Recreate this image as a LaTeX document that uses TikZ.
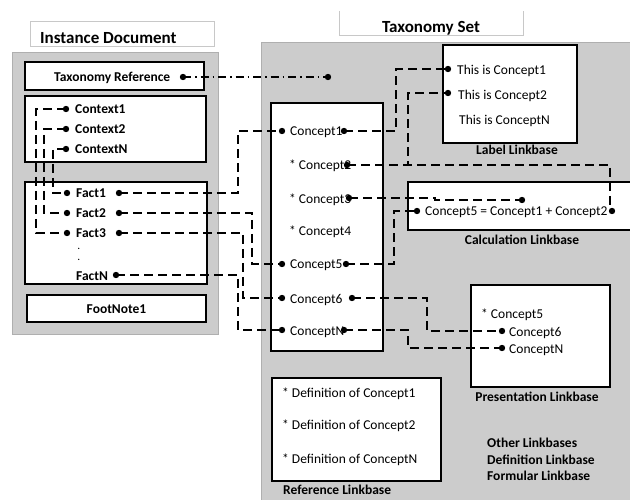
\documentclass[tikz,border=0pt]{standalone}
\usepackage{fontspec}
\setmainfont{Carlito}
\usetikzlibrary{calc}
\definecolor{panelgray}{RGB}{204,204,204}
\definecolor{panelborder}{RGB}{175,175,175}
\definecolor{titleborder}{RGB}{200,200,200}
\tikzset{
  txt/.style={anchor=base west, inner sep=0pt, font=\fontsize{13.5}{16}\selectfont},
  btxt/.style={txt, font=\fontsize{13.5}{16}\selectfont\bfseries},
  ctxt/.style={anchor=base, inner sep=0pt, font=\fontsize{13.5}{16}\selectfont\bfseries},
  ttl/.style={anchor=base west, inner sep=0pt, font=\fontsize{17}{20}\selectfont\bfseries},
  box/.style={draw=black, line width=1.3pt, fill=white},
  panel/.style={fill=panelgray, draw=panelborder, line width=1pt},
  link/.style={line width=1.2pt, dash pattern=on 9pt off 5pt},
  dashdot/.style={line width=1.2pt, dash pattern=on 8pt off 4pt on 1.5pt off 4pt},
  ellip/.style={anchor=base west, inner sep=0pt, text height=1.5pt, text depth=0pt, font=\fontsize{9}{10}\selectfont\bfseries},
}
\newcommand{\blob}[1]{\fill (#1) circle (3.2pt);}
\begin{document}
\begin{tikzpicture}[x=1pt,y=-1pt]
\useasboundingbox (0,0) rectangle (630,500);
\clip (0,0) rectangle (630,500);
\fill[white] (0,0) rectangle (630,500);

% title boxes
\draw[titleborder, line width=1pt, fill=white] (30,22) rectangle (214,47);
\node[ttl] (tid) at (40,44) {Instance Document};
\draw[titleborder, line width=1pt] (339,11) -- (339,36) -- (523,36) -- (523,11);
\node[ttl, anchor=base] (tts) at (431,33) {Taxonomy Set};

% panels
\draw[panel] (12,53) rectangle (218,334);
\draw[panel] (261,43) rectangle (640,510);

% instance boxes
\draw[box] (25,62) rectangle (204,90);
\node[btxt] (taxref) at (54,82) {Taxonomy Reference};
\coordinate (trdot) at (183,77);

\draw[box] (25,96) rectangle (206,162);
\node[btxt] (ctx1) at (75,114) {Context1};
\node[btxt] (ctx2) at (75,134) {Context2};
\node[btxt] (ctxN) at (75,154) {ContextN};
\coordinate (c1d) at (66,109);
\coordinate (c2d) at (66,129);
\coordinate (cNd) at (66,149);

\draw[box] (25,182) rectangle (207,284);
\node[btxt] (f1) at (76,198) {Fact1};
\node[btxt] (f2) at (76,218) {Fact2};
\node[btxt] (f3) at (76,238) {Fact3};
\node[ellip] (fd1) at (77.5,249.5) {.};
\node[ellip] (fd2) at (77.5,260.5) {.};
\node[btxt] (fN) at (76,280) {FactN};
\coordinate (f1l) at (67,193);
\coordinate (f2l) at (67,213);
\coordinate (f3l) at (67,233);
\coordinate (f1r) at (119,193);
\coordinate (f2r) at (119,213);
\coordinate (f3r) at (119,233);
\coordinate (fNr) at (116,275);

\draw[box] (27,295) rectangle (206,322);
\node[ctxt] (fn) at (116.5,313) {FootNote1};

% taxonomy: concept box
\draw[box] (271,103) rectangle (383,351);
\node[txt] (k1) at (290,136) {Concept1};
\node[txt] (k2) at (289,170) {* Concept2};
\node[txt] (k3) at (289,204) {* Concept3};
\node[txt] (k4) at (289,236) {* Concept4};
\node[txt] (k5) at (290,269) {Concept5};
\node[txt] (k6) at (290,303) {Concept6};
\node[txt] (kN) at (290,335) {ConceptN};
\coordinate (k1l) at (282,131);
\coordinate (k5l) at (282,264);
\coordinate (k6l) at (282,298);
\coordinate (kNl) at (282,330);
\coordinate (k1r) at (344,131);
\coordinate (k2r) at (347,165);
\coordinate (k3r) at (349,198);
\coordinate (k5r) at (346,264);
\coordinate (k6r) at (352,298);
\coordinate (kNr) at (344,330);
\coordinate (trend) at (328,77);

% label linkbase
\draw[box] (443,45) rectangle (577,143);
\node[txt] (l1) at (457,75) {This is Concept1};
\node[txt] (l2) at (458,100) {This is Concept2};
\node[txt] (lN) at (459,125) {This is ConceptN};
\coordinate (l1d) at (448,69);
\coordinate (l2d) at (448,93);
\node[ctxt] (llb) at (517,155) {Label Linkbase};

% calculation linkbase
\draw[box] (408,182) rectangle (640,230);
\node[txt] (calc) at (425,216) {Concept5 = Concept1 + Concept2};
\coordinate (cal) at (417,211);
\coordinate (car) at (612,211);
\coordinate (cat) at (522,200);
\node[ctxt] (clb) at (522,245) {Calculation Linkbase};

% presentation linkbase
\draw[box] (471,285) rectangle (610,387);
\node[txt] (p5) at (481,319) {* Concept5};
\node[txt] (p6) at (509,336) {Concept6};
\node[txt] (pN) at (509,353) {ConceptN};
\coordinate (p6d) at (502,331);
\coordinate (pNd) at (502,348);
\node[ctxt] (plb) at (537,401) {Presentation Linkbase};

% reference linkbase
\draw[box] (272,378) rectangle (441,481);
\node[txt] (r1) at (282,397) {* Definition of Concept1};
\node[txt] (r2) at (282,429) {* Definition of Concept2};
\node[txt] (rN) at (282,463) {* Definition of ConceptN};
\node[btxt] (rlb) at (283,494) {Reference Linkbase};

% other linkbases
\node[btxt] (o1) at (487,447) {Other Linkbases};
\node[btxt] (o2) at (487,464) {Definition Linkbase};
\node[btxt] (o3) at (487,480) {Formular Linkbase};

% ---- connectors ----
\draw[dashdot] (trdot) -- (trend);

\draw[link] (c1d) -- (36,109) -- (36,233) -- (f3l);
\draw[link] (c2d) -- (44,129) -- (44,213) -- (f2l);
\draw[link] (cNd) -- (53,149) -- (53,193) -- (f1l);

\draw[link] (f1r) -- (238,193) -- (238,131) -- (k1l);
\draw[link] (f2r) -- (252,213) -- (252,264) -- (k5l);
\draw[link] (f3r) -- (243,233) -- (243,298) -- (k6l);
\draw[link] (fNr) -- (238,275) -- (238,330) -- (kNl);

\draw[link] (k1r) -- (396,131) -- (396,69) -- (l1d);
\draw[link] (k2r) -- (408,165) -- (408,93) -- (l2d);
\draw[link] (k2r) -- (610,165) -- (610,211) -- (car);
\draw[link] (k3r) -- (435,198) -- (435,200) -- (cat);
\draw[link] (k5r) -- (394,264) -- (394,211) -- (cal);
\draw[link] (k6r) -- (427,298) -- (427,331) -- (p6d);
\draw[link] (kNr) -- (408,330) -- (408,348) -- (pNd);

% dots
\foreach \p in {trdot,trend,c1d,c2d,cNd,f1l,f2l,f3l,f1r,f2r,f3r,fNr,
  k1l,k5l,k6l,kNl,k1r,k2r,k3r,k5r,k6r,kNr,l1d,l2d,cal,car,cat,p6d,pNd}
  {\blob{\p}}
\end{tikzpicture}
\end{document}
